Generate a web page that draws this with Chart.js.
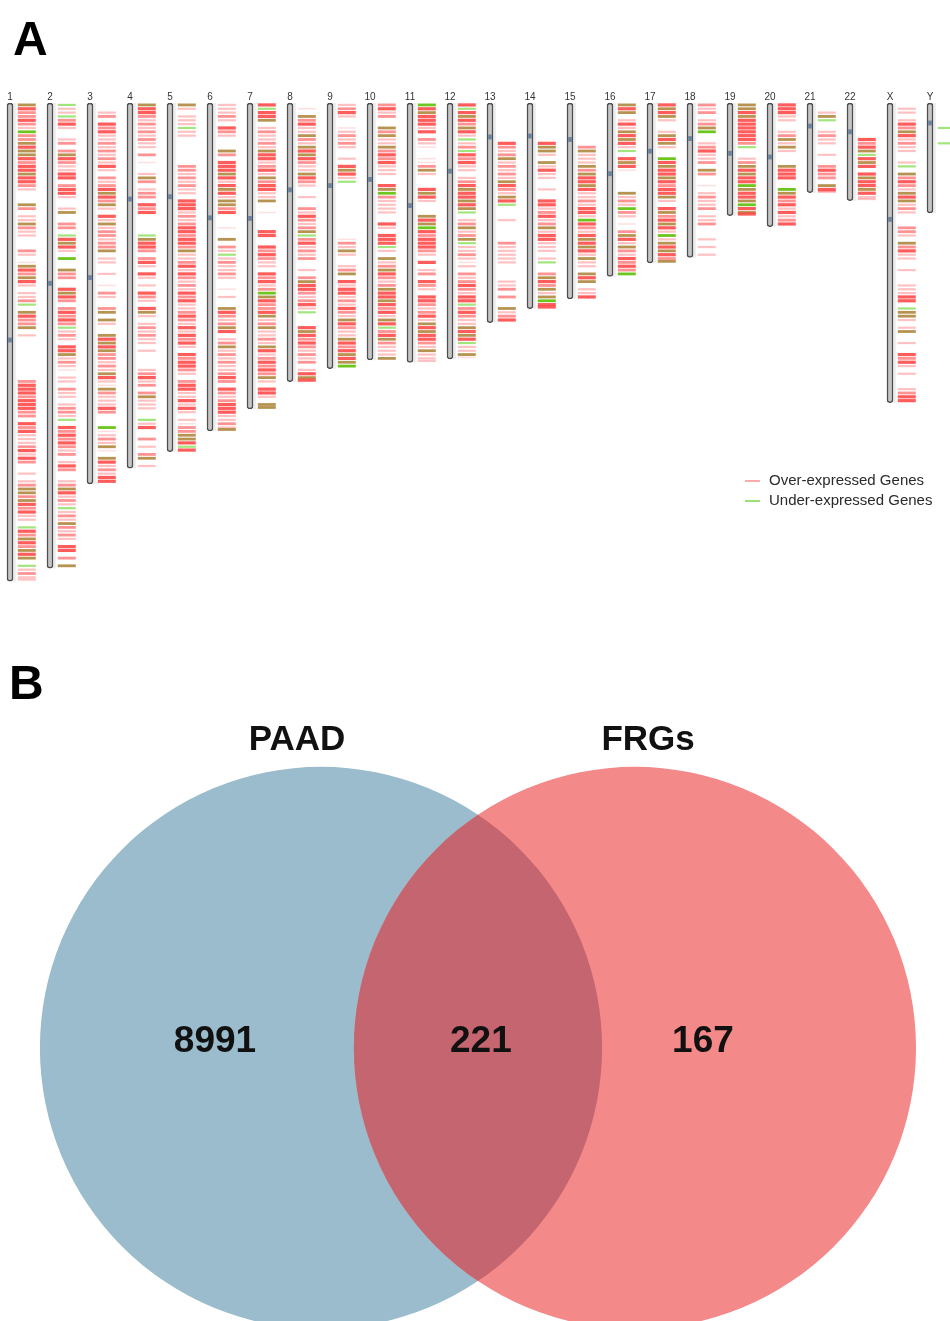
<!DOCTYPE html>
<html>
<head>
<meta charset="utf-8">
<title>Karyotype and Venn</title>
<script src="https://cdn.jsdelivr.net/npm/chart.js@4.4.1/dist/chart.umd.min.js"></script>
<style>
    html, body { margin: 0; padding: 0; background: #ffffff; }
    #karyo-chart { position: absolute; left: 0; top: 0; }
    #venn-chart  { position: absolute; left: 0; top: 600px; }
</style>
</head>
<body>
<canvas id="karyo-chart" width="950" height="600"></canvas>
<canvas id="venn-chart" width="950" height="721"></canvas>
<script>
/* ============================================================
   PANEL A · chromosome map of differentially expressed genes
   ============================================================ */

var chromNames   = ['1','2','3','4','5','6','7','8','9','10','11','12','13','14','15','16','17','18','19','20','21','22','X','Y'];
var chromLengths = [248.96,242.19,198.30,190.21,181.54,170.81,159.35,145.14,138.39,133.80,135.09,133.28,114.36,107.04,101.99,90.34,83.26,80.37,58.62,64.44,46.71,50.82,156.04,57.23];
var centromeres  = [123.4,93.9,90.9,50.0,48.8,59.8,60.1,45.2,43.0,39.8,53.4,35.5,17.7,17.2,19.0,36.8,25.1,18.5,26.2,28.1,12.0,15.0,60.6,10.4];

// gene marks per chromosome, one char per 2 Mb bin
// ' ' none, '.' faint, '-' light pink, 'r' red, 'R' dense red,
// 'g' light green, 'G' green, 'o' red + green together
var BIN = 2;
var geneTracks = [
    'oRrrRr-GrroRooRrRRoRRr-   or --or--   r- .oRroR- --rg oRrro -           rRRRrRRRrr RrR---rR-Rr  - -rooroRrR-- gRroRroRo g-r--',
    'g--grR-  -r roRr--RR rRR-  -o  rr gRoR- G  orr  RoRr rRrRrg-r- RRo-r-. -- r-- -rr-g RrRrRr-r -Rr  -roR-r-g-r-or-r- RR r o',
    '  -r RrR--r-r-r-R- r-rRoRro- R-o-rr-rro --  -  . r-  ro o-  oRoRorr-r-oR-.or---Rr   G.-r-o. oR-r-RR',
    'oRRr-r-r-r-- r .  -or -rr RrR     goRRr rR- R- - Rr- Ro- -r-r-- -    -rR-r ro---  g-R  r - ro -',
    'o- ---g--       rr-r-r-- RRR-r-rRRrRRro--rR-Rr-r-RrR--rRr-R-RrR- RrRRr- rRR--R-R- -.rrooRgR',
    '---r- Rr-   or RRRoR-RoR-oorR   .  o r-g-r--r-  . -  oRr-roR -ro-r-r--rRr Rr-rRRR--r-o',
    'RgRRo -r--r-oRR-rR-orRR--o  .    RR  RrRr-- RrR-rGoRrrRo-ro--r-oR-rRrRro- RR- oo',
    ' . orR--or-oRoRr--oRr-  -  r-Rr-rogrR-r-r  - roRRr-rR-g   RoRrRr-r-r -RoR',
    '-rR-  .-r-r-  - RoR-g              .r-o-  -ro R-RR-r-Rr-oRr--oRrRoRoG',
    'rR-r  oro--orRrR---  RoGr----  R- RRRg- o-roRr-roRRoRrR-oRgrRor---o',
    'GRoRRR-R r-.  ..ro-   RoR-   oRoGRrRRRr- R -r Rr- RRr-rR-oRoRRr-o---',
    'RgRoRroR-g-rgRrR-- -rRoRRoRog -ro-rog--r-.- r-rRr-RRgrRr--oRoRg--o.',
    '          Rr-ro-r-r-oRr-oRg   -     r-----    --r r  o-rR',
    '          Roo- o-R--  -  RR-rR-ro-RR--- -g  roRro-oGRR',
    '           ro---oroRRoR--r-RR-GRr-RoRoR-o-- oRo --R',
    'oRo -R-oRoR-g RoR.     o-r-Gr- . roR-or-RrRrG',
    'RoRo-  -oRo-  GRoRRoRrRRo- RorRoR-G-oRoRro',
    'r-r -roG  -rR--r or  . -r--r --r   - - -',
    'ooRoRRRRRRrg  -roRoRRGoRRoGRoR',
    'RRR--  -ro-o-   oRRR  GoRrR-R-rR',
    '  -og  -r--  -  rRrr oRr',
    '         RrRogRoR RoRRoR--',
    ' -- -RroR-r--  -g orRr-oRo-r-   rr- orR--  -   ---RR goo- -o  -  RrR- -   -rRR',
    '      g   g'
];

var MARK_COLORS = {
    '.': 'rgba(255,110,110,0.22)',
    '-': 'rgba(255,100,100,0.40)',
    'r': 'rgba(255,80,80,0.62)',
    'R': 'rgba(255,70,70,0.88)',
    'g': 'rgba(130,220,80,0.75)',
    'G': '#6cc61e',
    'o': 'rgba(170,128,50,0.85)'
};
var MARK_WIDTHS = { '.': 1.5, '-': 2.2, 'r': 2.8, 'R': 3.2, 'g': 2.2, 'G': 2.8, 'o': 2.8 };

var legendLabels = ['Over-expressed Genes', 'Under-expressed Genes'];
var legendColors = ['#ff9090', '#7ed348'];

/* ============================================================
   PANEL B · Venn diagram
   ============================================================ */

var vennSets    = ['PAAD', 'FRGs'];
var vennCenters = [0, 1.117];
var vennRadius  = 1;
var vennCounts  = [8991, 221, 167];
var vennCountX  = [-0.377, 0.569, 1.359];
var vennNameX   = [-0.085, 1.164];

var VENN_X = [-1.142, 2.238];
var VENN_Y = [-0.972, 1.594];
var VENN_COLORS  = ['#9bbccd', '#f4898a'];
var VENN_OVERLAP = '#c46570';
var FONT = '"Liberation Sans", Arial, Helvetica, sans-serif';

function renderKaryotype() {
    var canvas = document.getElementById('karyo-chart');

    var chromData = [], cenData = [], trackData = [];
    var geneData = [], geneColors = [], geneWidths = [];

    for (var i = 0; i < chromNames.length; i++) {
        chromData.push({ x: i, y: [0, chromLengths[i]] });
        cenData.push({ x: i, y: [centromeres[i] - 1.1, centromeres[i] + 1.1] });
        trackData.push({ x: i + 0.11, y: [0, chromLengths[i]] });

        var s = geneTracks[i];
        for (var b = 0; b < s.length; b++) {
            var c = s.charAt(b);
            if (c === ' ') continue;
            geneData.push({ x: i + 0.42, y: Math.min(b * BIN + BIN / 2, chromLengths[i] - 0.8) });
            geneColors.push(MARK_COLORS[c]);
            geneWidths.push(MARK_WIDTHS[c]);
        }
    }

    var labelsPlugin = {
        id: 'karyoLabels',
        afterDraw: function(chart) {
            var ctx = chart.ctx;
            var xs = chart.scales.x, ys = chart.scales.y;
            ctx.save();

            ctx.fillStyle = '#333333';
            ctx.font = '10px ' + FONT;
            ctx.textAlign = 'center';
            ctx.textBaseline = 'alphabetic';
            chromNames.forEach(function(n, i) {
                ctx.fillText(n, xs.getPixelForValue(i), ys.getPixelForValue(0) - 3);
            });

            // legend, bottom right
            ctx.font = '15px ' + FONT;
            ctx.textAlign = 'left';
            ctx.textBaseline = 'middle';
            legendLabels.forEach(function(lbl, k) {
                var y = 481 + k * 20;
                ctx.strokeStyle = legendColors[k];
                ctx.lineWidth = 1.5;
                ctx.beginPath();
                ctx.moveTo(745, y);
                ctx.lineTo(760, y);
                ctx.stroke();
                ctx.fillStyle = '#2a2a2a';
                ctx.fillText(lbl, 769, y);
            });

            ctx.fillStyle = '#000000';
            ctx.font = 'bold 48px ' + FONT;
            ctx.textBaseline = 'alphabetic';
            ctx.fillText('A', 13, 55);
            ctx.restore();
        }
    };

    new Chart(canvas, {
        type: 'scatter',
        data: {
            datasets: [
                {
                    type: 'bar',
                    data: trackData,
                    backgroundColor: '#ebebeb',
                    barThickness: 2,
                    grouped: false,
                    order: 3
                },
                {
                    type: 'bar',
                    data: chromData,
                    backgroundColor: '#c6c6c6',
                    borderColor: '#4d4d4d',
                    borderWidth: 1.5,
                    borderRadius: 3,
                    borderSkipped: false,
                    barThickness: 6,
                    grouped: false,
                    order: 2
                },
                {
                    type: 'bar',
                    data: cenData,
                    backgroundColor: '#6a84a0',
                    barThickness: 3,
                    grouped: false,
                    order: 1
                },
                {
                    type: 'scatter',
                    data: geneData,
                    pointStyle: 'line',
                    pointRadius: 9,
                    pointBorderColor: geneColors,
                    pointBorderWidth: geneWidths,
                    order: 0
                }
            ]
        },
        options: {
            responsive: false,
            animation: false,
            events: [],
            layout: { autoPadding: false, padding: { top: 103, bottom: 10, left: 0, right: 0 } },
            plugins: {
                legend: { display: false },
                tooltip: { enabled: false }
            },
            scales: {
                x: { type: 'linear', display: false, offset: false, min: -0.25, max: 23.5 },
                y: { type: 'linear', display: false, offset: false, reverse: true, min: 0, max: 253.6 }
            }
        },
        plugins: [labelsPlugin]
    });
}

function renderVenn() {
    var canvas = document.getElementById('venn-chart');
    // pixel radius of one data unit on the x scale
    var radiusPx = canvas.width / (VENN_X[1] - VENN_X[0]) * vennRadius;

    var overlapPlugin = {
        id: 'vennOverlap',
        afterDatasetsDraw: function(chart) {
            var ctx = chart.ctx;
            var meta = chart.getDatasetMeta(0);
            var a = meta.data[0], b = meta.data[1];
            ctx.save();
            ctx.beginPath();
            ctx.arc(a.x, a.y, radiusPx, 0, Math.PI * 2);
            ctx.clip();
            ctx.beginPath();
            ctx.arc(b.x, b.y, radiusPx, 0, Math.PI * 2);
            ctx.fillStyle = VENN_OVERLAP;
            ctx.fill();
            ctx.restore();
        },
        afterDraw: function(chart) {
            var ctx = chart.ctx;
            var xs = chart.scales.x, ys = chart.scales.y;
            ctx.save();
            ctx.fillStyle = '#111111';
            ctx.textAlign = 'center';
            ctx.textBaseline = 'middle';

            ctx.font = 'bold 35px ' + FONT;
            vennSets.forEach(function(name, k) {
                ctx.fillText(name, xs.getPixelForValue(vennNameX[k]), ys.getPixelForValue(1.096));
            });

            ctx.font = 'bold 37px ' + FONT;
            vennCounts.forEach(function(n, k) {
                ctx.fillText(String(n), xs.getPixelForValue(vennCountX[k]), ys.getPixelForValue(0.02));
            });

            ctx.fillStyle = '#000000';
            ctx.font = 'bold 48px ' + FONT;
            ctx.textAlign = 'left';
            ctx.textBaseline = 'alphabetic';
            ctx.fillText('B', 9, 99);
            ctx.restore();
        }
    };

    new Chart(canvas, {
        type: 'scatter',
        data: {
            datasets: [{
                data: vennCenters.map(function(cx) { return { x: cx, y: 0 }; }),
                pointBackgroundColor: VENN_COLORS,
                pointBorderWidth: 0,
                pointRadius: radiusPx,
                pointHoverRadius: radiusPx,
                clip: false
            }]
        },
        options: {
            responsive: false,
            animation: false,
            events: [],
            layout: { autoPadding: false, padding: 0 },
            plugins: {
                legend: { display: false },
                tooltip: { enabled: false }
            },
            scales: {
                x: { type: 'linear', display: false, min: VENN_X[0], max: VENN_X[1] },
                y: { type: 'linear', display: false, min: VENN_Y[0], max: VENN_Y[1] }
            }
        },
        plugins: [overlapPlugin]
    });
}

renderKaryotype();
renderVenn();
</script>
</body>
</html>
